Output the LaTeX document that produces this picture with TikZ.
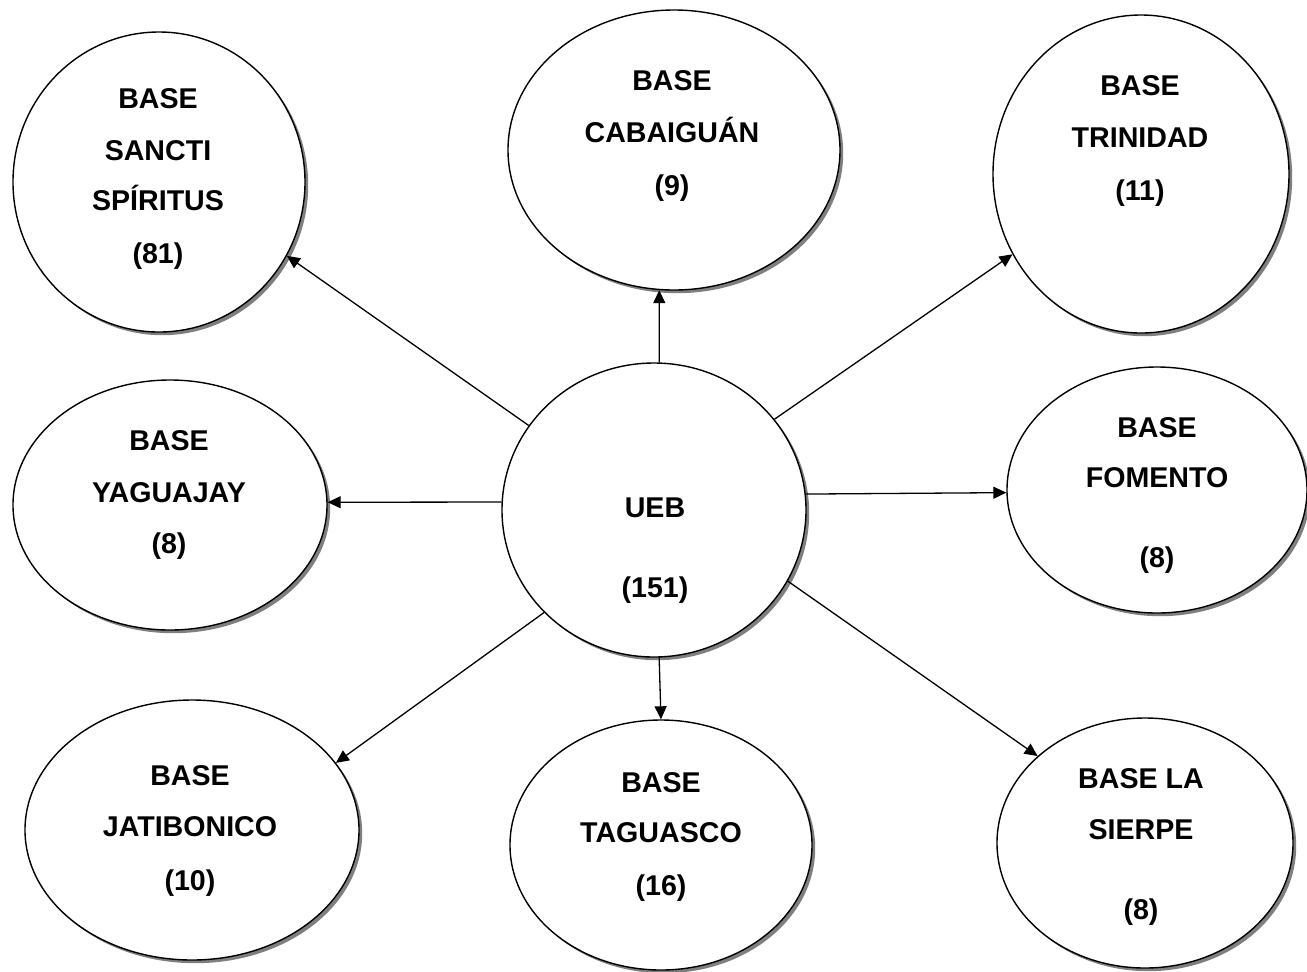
\documentclass[tikz,border=0pt]{standalone}
\usepackage{fontspec}
\setmainfont{Liberation Sans}
\usetikzlibrary{shapes.geometric,shadows,arrows.meta}
\begin{document}
\begin{tikzpicture}[x=0.5pt,y=-0.5pt,
  bubble/.style={ellipse, draw=black, line width=0.7pt, fill=white, inner sep=0pt,
    drop shadow={shadow xshift=1.6pt, shadow yshift=-1.6pt, fill=black, opacity=0.5}},
  lbl/.style={anchor=base, inner sep=0pt, font=\fontsize{14.3}{17}\selectfont\bfseries},
  link/.style={line width=0.65pt, -{Triangle[length=6.5pt,width=6pt]}}]
\useasboundingbox (0,0) rectangle (1307,971);
% ellipses
\node[bubble, minimum width=146pt, minimum height=150pt] (sancti) at (159,182) {};
\node[bubble, minimum width=166pt, minimum height=140pt] (cabai) at (674,150) {};
\node[bubble, minimum width=148pt, minimum height=159pt] (trini) at (1141,174) {};
\node[bubble, minimum width=157pt, minimum height=125pt] (yagua) at (170,505) {};
\node[bubble, minimum width=152pt, minimum height=147pt] (ueb) at (654,510) {};
\node[bubble, minimum width=150pt, minimum height=123pt] (foment) at (1157,490) {};
\node[bubble, minimum width=167pt, minimum height=130pt] (jatib) at (192,830) {};
\node[bubble, minimum width=151pt, minimum height=125pt] (tagua) at (661,845) {};
\node[bubble, minimum width=148pt, minimum height=125pt] (sierpe) at (1145,843) {};
% texts
\node[lbl] (sancti1) at (158,108) {BASE};
\node[lbl] (sancti2) at (158,160) {SANCTI};
\node[lbl] (sancti3) at (158,210) {SPÍRITUS};
\node[lbl] (sancti4) at (158,263) {(81)};
\node[lbl] (cabai1) at (672,90) {BASE};
\node[lbl] (cabai2) at (672,142) {CABAIGUÁN};
\node[lbl] (cabai3) at (672,195) {(9)};
\node[lbl] (trini1) at (1140,95) {BASE};
\node[lbl] (trini2) at (1140,147) {TRINIDAD};
\node[lbl] (trini3) at (1140,200) {(11)};
\node[lbl] (yagua1) at (169,450) {BASE};
\node[lbl] (yagua2) at (169,502) {YAGUAJAY};
\node[lbl] (yagua3) at (169,553) {(8)};
\node[lbl] (ueb1) at (655,517) {UEB};
\node[lbl] (ueb2) at (655,597) {(151)};
\node[lbl] (foment1) at (1157,437) {BASE};
\node[lbl] (foment2) at (1157,487) {FOMENTO};
\node[lbl] (foment3) at (1157,567) {(8)};
\node[lbl] (jatib1) at (190,785) {BASE};
\node[lbl] (jatib2) at (190,836) {JATIBONICO};
\node[lbl] (jatib3) at (190,890) {(10)};
\node[lbl] (tagua1) at (661,792) {BASE};
\node[lbl] (tagua2) at (661,842) {TAGUASCO};
\node[lbl] (tagua3) at (661,895) {(16)};
\node[lbl] (sierpe1) at (1141,788) {BASE LA};
\node[lbl] (sierpe2) at (1141,839) {SIERPE};
\node[lbl] (sierpe3) at (1141,919) {(8)};
% connectors
\draw[link] (ueb.146) -- (sancti.-30);
\draw[link] (ueb.88) -- (cabai.-96);
\draw[link] (ueb.37) -- (trini.-148);
\draw[link] (ueb.177) -- (yagua.1);
\draw[link] (ueb.6) -- (foment.181);
\draw[link] (ueb.-137) -- (jatib.25);
\draw[link] (ueb.-88) -- (tagua.90);
\draw[link] (ueb.-28) -- (sierpe.141);
\end{tikzpicture}
\end{document}
